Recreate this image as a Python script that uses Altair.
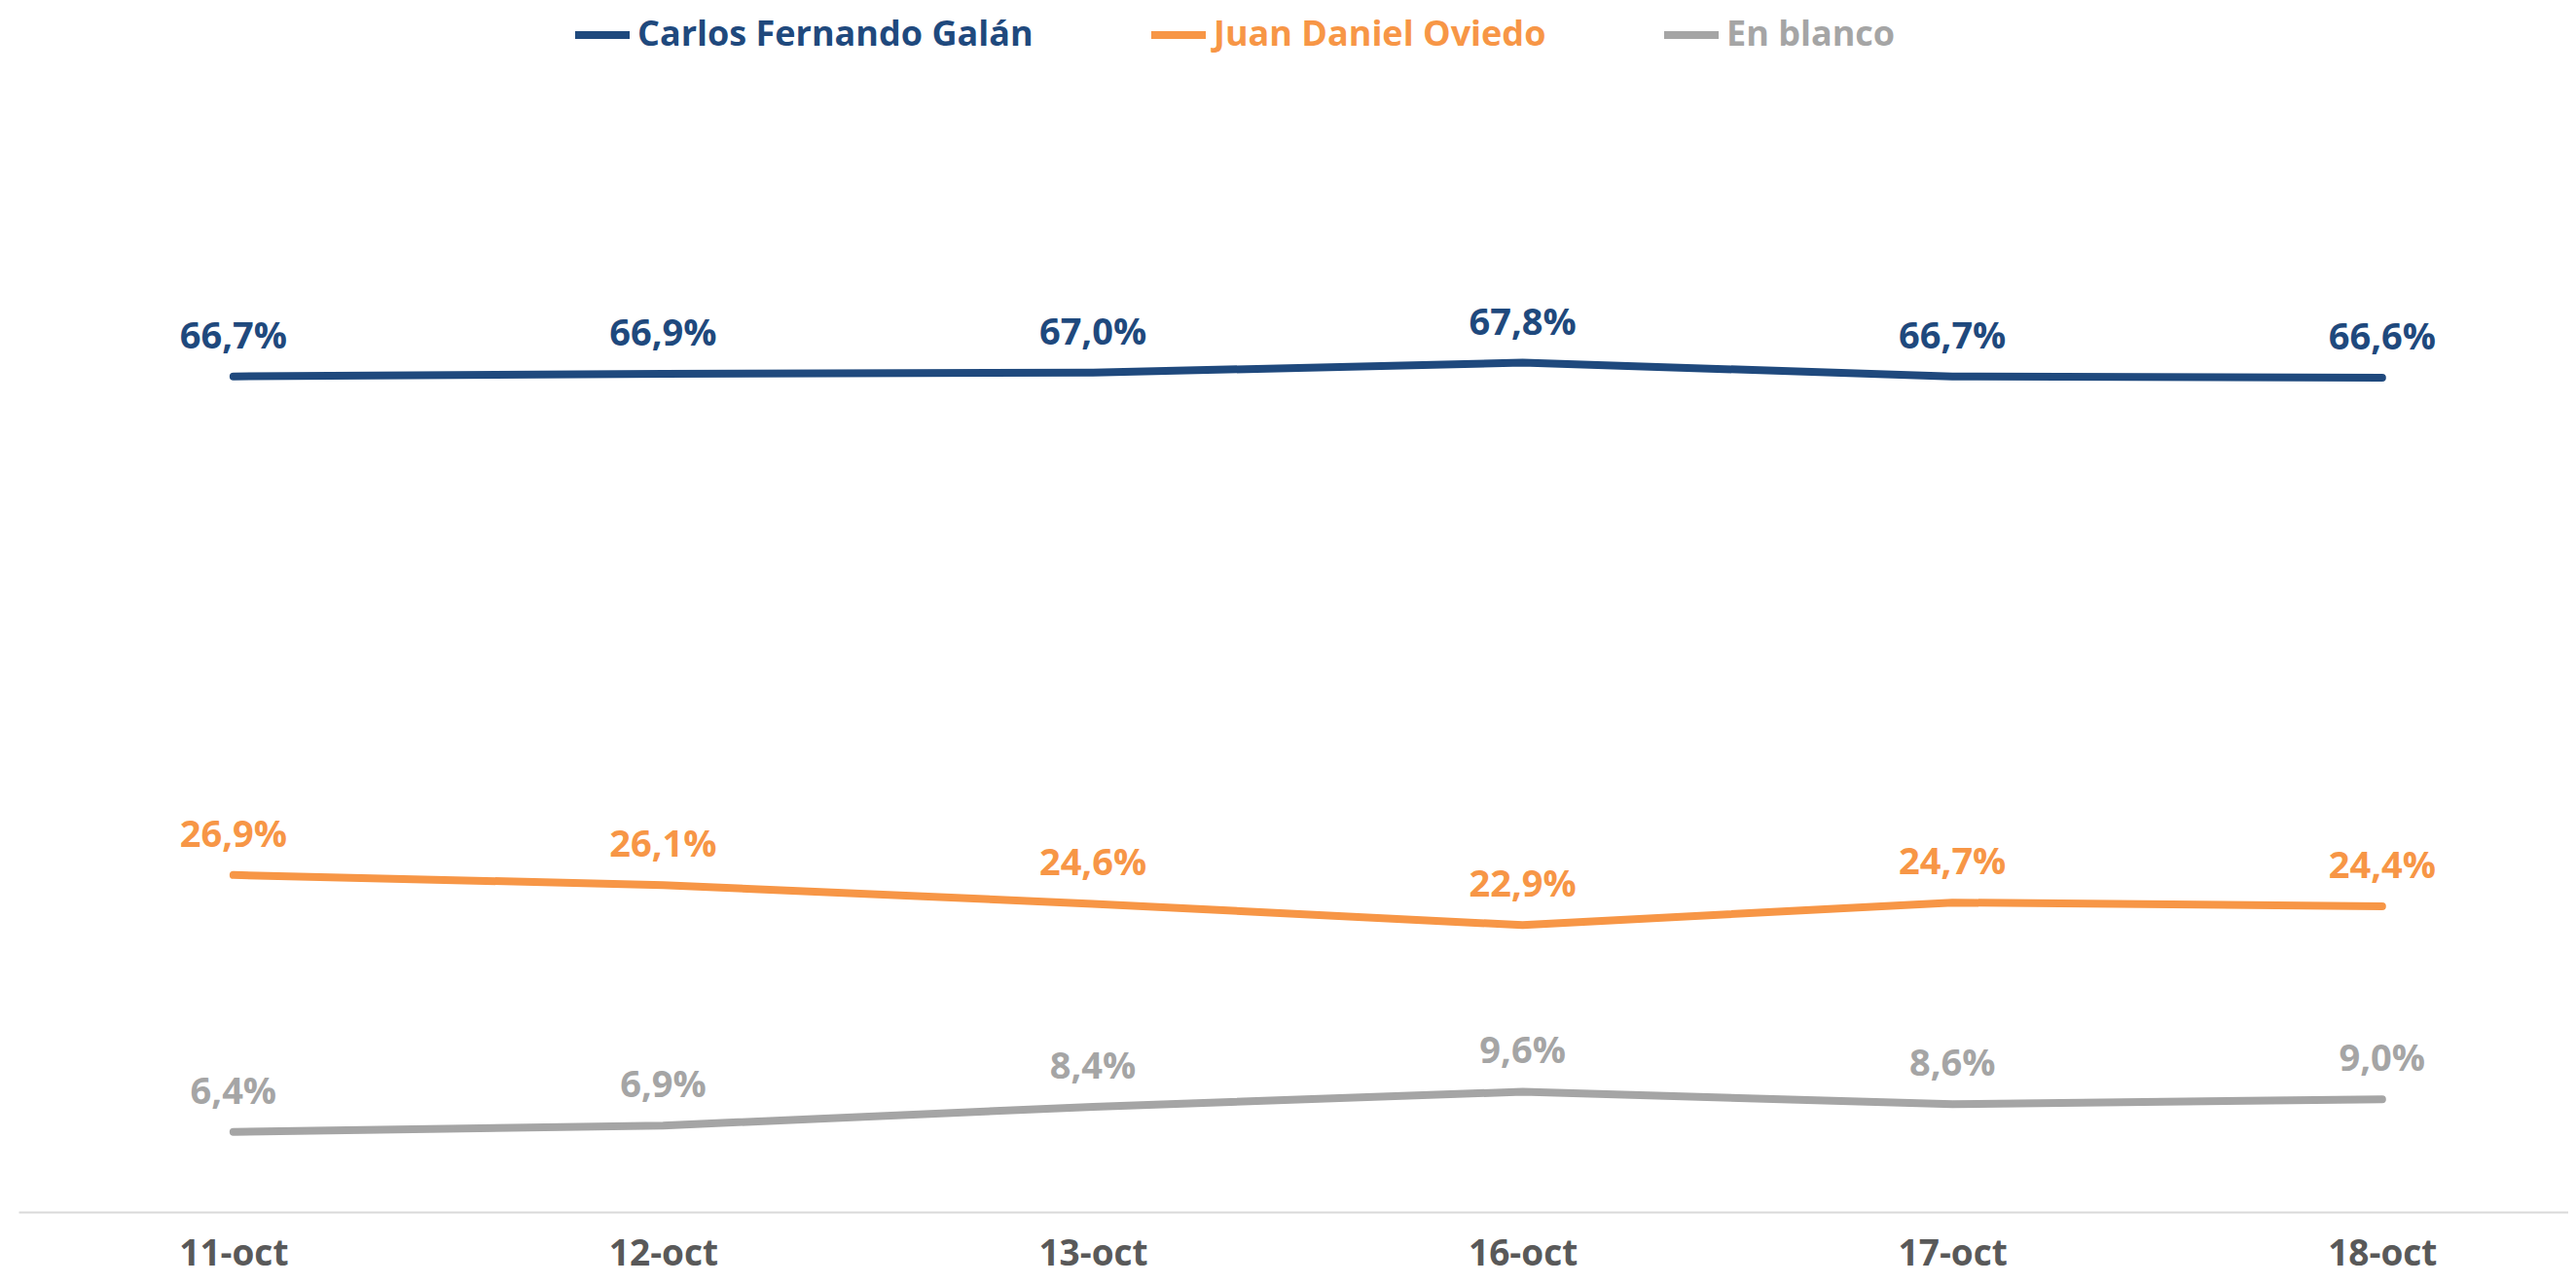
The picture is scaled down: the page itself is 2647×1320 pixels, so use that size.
import altair as alt
import pandas as pd

fechas = ["11-oct", "12-oct", "13-oct", "16-oct", "17-oct", "18-oct"]
series = ["Carlos Fernando Galán", "Juan Daniel Oviedo", "En blanco"]
galan = [66.7, 66.9, 67.0, 67.8, 66.7, 66.6]
oviedo = [26.9, 26.1, 24.6, 22.9, 24.7, 24.4]
blanco = [6.4, 6.9, 8.4, 9.6, 8.6, 9.0]
colores = ["#1F497D", "#F79646", "#A5A5A5"]

rows = []
for s, vals in zip(series, [galan, oviedo, blanco]):
    for f, v in zip(fechas, vals):
        rows.append({"fecha": f, "serie": s, "valor": v})
df = pd.DataFrame(rows)

W = 2620
H = 1187
FONT = "Open Sans"

x = alt.X(
    "fecha:N",
    sort=fechas,
    scale=alt.Scale(type="point", padding=0.4665, align=0.536),
    axis=alt.Axis(
        title=None, labelAngle=0, ticks=False, grid=False,
        domainColor="#D9D9D9", domainWidth=2,
        labelFont=FONT, labelFontSize=37, labelFontWeight="bold",
        labelColor="#595959", labelPadding=54, labelBaseline="alphabetic",
    ),
)
y = alt.Y("valor:Q", scale=alt.Scale(domain=[0, 92.24], nice=False, zero=True), axis=None)
color = alt.Color(
    "serie:N",
    sort=series,
    scale=alt.Scale(domain=series, range=colores),
    legend=alt.Legend(
        title=None, orient="none", legendX=568, legendY=-54,
        direction="horizontal", columns=3,
        symbolType="stroke", symbolSize=3136, symbolStrokeWidth=8,
        labelFont=FONT, labelFontSize=36, labelFontWeight="bold",
        labelColor=alt.ExprRef("scale('color', datum.value)"),
        labelOffset=4, columnPadding=105, padding=0, labelLimit=800,
    ),
)

base = alt.Chart(df).encode(x=x, y=y, color=color)

lines = base.mark_line(strokeWidth=8, strokeCap="round", strokeJoin="round")
labels = base.transform_calculate(
    etiqueta="replace(format(datum.valor, '.1f'), '.', ',') + '%'"
).mark_text(
    font=FONT, fontSize=38, fontWeight="bold", baseline="alphabetic", align="center", dy=-29
).encode(text="etiqueta:N")

chart = alt.layer(lines, labels).properties(
    width=W, height=H,
    autosize=alt.AutoSizeParams(type="none"),
    padding={"left": 11, "top": 50, "right": 0, "bottom": 66},
).configure_view(stroke=None)

chart.save("out.html", embed_options={"renderer": "svg", "actions": False})
